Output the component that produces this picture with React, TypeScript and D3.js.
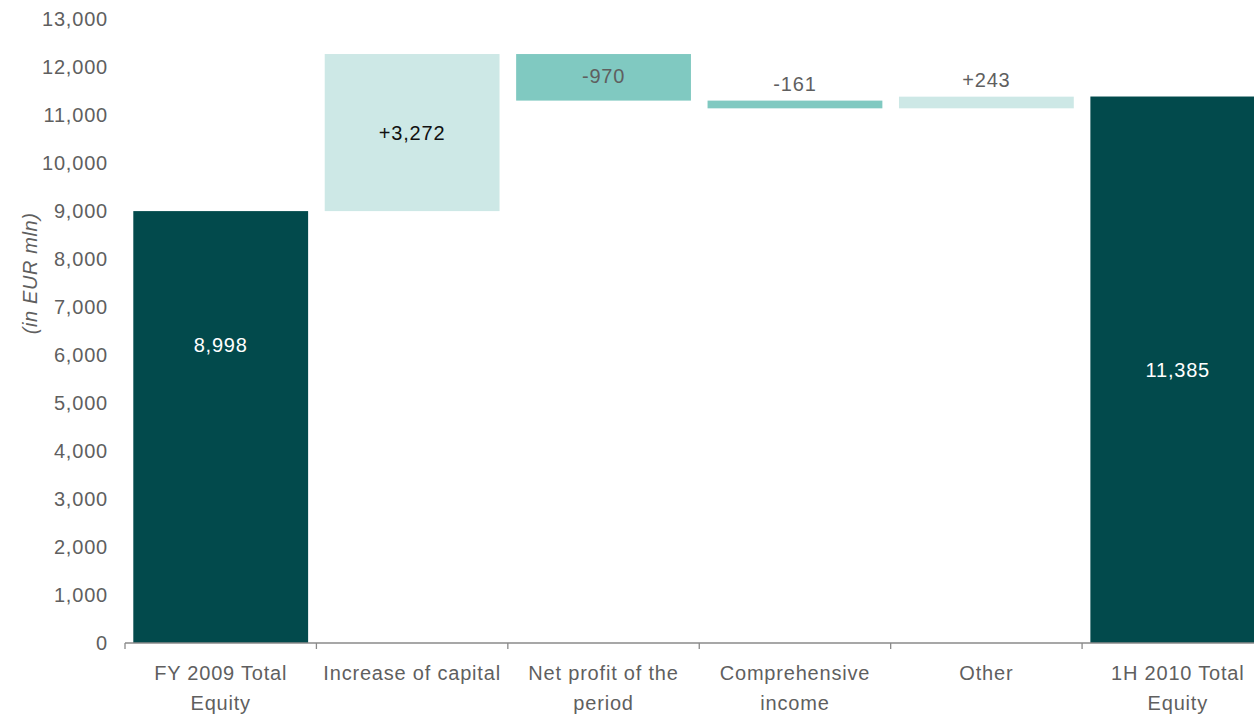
import React from "react";
import * as d3 from "d3";

const categories = [
  ["FY 2009 Total", "Equity"],
  ["Increase of capital"],
  ["Net profit of the", "period"],
  ["Comprehensive", "income"],
  ["Other"],
  ["1H 2010 Total", "Equity"],
];
const kinds = ["total", "up", "down", "down", "up", "total"];
const values = [8998, 3272, -970, -161, 243, 11385];
const labels = ["8,998", "+3,272", "-970", "-161", "+243", "11,385"];
const yTicks = [0, 1000, 2000, 3000, 4000, 5000, 6000, 7000, 8000, 9000, 10000, 11000, 12000, 13000];

const W = 1254;
const H = 717;
const colors: Record<string, string> = { total: "#024a4c", up: "#cde8e6", down: "#80c9c1" };

export default function App() {
  const x = d3.scaleBand<number>().domain(d3.range(6)).range([125, 1273.5]).padding(0);
  const y = d3.scaleLinear().domain([0, 13000]).range([643, 19]);
  const inset = 8.3;

  let running = 0;
  const bars = values.map((v, i) => {
    let lo: number, hi: number;
    if (kinds[i] === "total") {
      lo = 0;
      hi = v;
      running = v;
    } else {
      const s = running;
      const e = running + v;
      lo = Math.min(s, e);
      hi = Math.max(s, e);
      running = e;
    }
    return { i, lo, hi, v };
  });

  const font = "'Liberation Sans', Arial, Helvetica, sans-serif";
  const gray = "#5f5f5f";
  const fs = 20;
  const ls = 0.8;

  return (
    <svg width={W} height={H} style={{ position: "absolute", left: 0, top: 0 }} fontFamily={font}>
      {yTicks.map((t) => (
        <text key={t} x={108} y={y(t)} dy="0.35em" textAnchor="end" fontSize={fs} letterSpacing={ls} fill={gray}>
          {d3.format(",")(t)}
        </text>
      ))}
      <text
        transform={`translate(37, ${y(7700)}) rotate(-90)`}
        textAnchor="middle"
        fontSize={fs}
        letterSpacing={0.6}
        fontStyle="italic"
        fill={gray}
      >
        (in EUR mln)
      </text>
      {bars.map((b) => (
        <rect
          key={b.i}
          x={(x(b.i) as number) + inset}
          width={x.bandwidth() - 2 * inset}
          y={y(b.hi)}
          height={y(b.lo) - y(b.hi)}
          fill={colors[kinds[b.i]]}
        />
      ))}
      {bars.map((b) => {
        const cx = (x(b.i) as number) + x.bandwidth() / 2;
        let ty: number;
        let fill = gray;
        if (kinds[b.i] === "total") {
          ty = b.i === 0 ? y(6200) : y(b.hi / 2);
          fill = "#ffffff";
        } else if (b.i === 1) {
          ty = y((b.lo + b.hi) / 2);
          fill = "#111111";
        } else if (b.i === 2) {
          ty = y(b.hi) + 22;
        } else {
          ty = y(b.hi) - 17;
        }
        return (
          <text key={b.i} x={cx} y={ty} dy="0.35em" textAnchor="middle" fontSize={fs} letterSpacing={ls} fill={fill}>
            {labels[b.i]}
          </text>
        );
      })}
      <line x1={125} x2={W} y1={y(0)} y2={y(0)} stroke="#8a8a8a" strokeWidth={1.3} />
      {d3.range(7).map((k) => {
        const px = 125 + k * x.step();
        return <line key={k} x1={px} x2={px} y1={y(0)} y2={y(0) + 6} stroke="#8a8a8a" strokeWidth={1.3} />;
      })}
      {categories.map((lines, i) => (
        <text key={i} textAnchor="middle" fontSize={fs} letterSpacing={ls} fill={gray}>
          {lines.map((ln, k) => (
            <tspan key={k} x={(x(i) as number) + x.bandwidth() / 2} y={y(0) + 37 + k * 30}>
              {ln}
            </tspan>
          ))}
        </text>
      ))}
    </svg>
  );
}
